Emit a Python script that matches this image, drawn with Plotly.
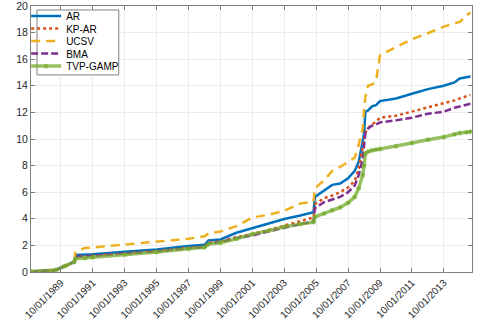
import plotly.graph_objects as go

# monthly dates where the cumulative curves change slope
dates = ["1987-12-01", "1989-06-01", "1990-01-01", "1990-08-01", "1990-09-01", "1991-04-01",
         "1991-10-01", "1993-10-01", "1995-10-01", "1997-10-01", "1998-10-01", "1999-01-01",
         "1999-10-01", "2000-10-01", "2001-10-01", "2002-10-01", "2003-10-01", "2004-10-01",
         "2005-08-01", "2005-09-01", "2006-04-01", "2006-10-01", "2007-04-01", "2007-10-01",
         "2008-03-01", "2008-06-01", "2008-09-01", "2008-10-01", "2008-11-01", "2009-01-01",
         "2009-04-01", "2009-07-01", "2009-10-01", "2010-10-01", "2011-10-01", "2012-10-01",
         "2013-10-01", "2014-06-01", "2014-10-01", "2015-03-01", "2015-06-01"]

ar = [0.03, 0.15, 0.45, 0.78, 1.28, 1.30, 1.33, 1.52, 1.70, 1.95, 2.05, 2.38,
      2.45, 2.95, 3.30, 3.60, 3.98, 4.25, 4.50, 5.65, 6.10, 6.55, 6.65, 7.05,
      7.60, 8.30, 9.85, 10.40, 12.05, 12.15, 12.45, 12.55, 12.85, 13.05, 13.40, 13.75,
      14.00, 14.25, 14.55, 14.62, 14.70]
kp_ar = [0.03, 0.15, 0.45, 0.76, 1.18, 1.20, 1.22, 1.40, 1.58, 1.82, 1.92, 2.20,
         2.30, 2.62, 2.85, 3.15, 3.50, 3.80, 4.10, 5.10, 5.55, 5.75, 6.00, 6.35,
         6.85, 7.80, 9.40, 10.10, 10.50, 10.80, 11.10, 11.30, 11.60, 11.75, 12.05, 12.35,
         12.65, 12.90, 13.05, 13.20, 13.30]
ucsv = [0.03, 0.15, 0.45, 0.80, 1.50, 1.80, 1.85, 2.05, 2.25, 2.50, 2.68, 2.90,
        3.05, 3.45, 4.10, 4.30, 4.60, 5.15, 5.30, 6.30, 6.90, 7.60, 7.90, 8.30,
        8.60, 9.60, 10.80, 12.20, 13.20, 14.00, 14.10, 14.30, 16.30, 16.90, 17.50, 17.95,
        18.45, 18.70, 18.80, 19.30, 19.50]
bma = [0.03, 0.15, 0.45, 0.75, 1.15, 1.18, 1.20, 1.38, 1.55, 1.78, 1.88, 2.15,
       2.25, 2.55, 2.75, 3.05, 3.35, 3.60, 3.80, 4.80, 5.25, 5.45, 5.65, 6.00,
       6.50, 7.30, 8.50, 9.50, 10.50, 10.80, 11.00, 11.10, 11.25, 11.40, 11.60, 11.90,
       12.05, 12.35, 12.45, 12.55, 12.65]
tvp_gamp = [0.03, 0.15, 0.45, 0.75, 1.00, 1.05, 1.10, 1.30, 1.50, 1.75, 1.85, 2.10,
            2.20, 2.50, 2.85, 3.10, 3.40, 3.60, 3.75, 4.15, 4.40, 4.65, 4.85, 5.20,
            5.65, 6.30, 7.30, 8.00, 8.90, 9.05, 9.15, 9.20, 9.25, 9.45, 9.70, 9.95,
            10.15, 10.35, 10.45, 10.50, 10.55]

tick_dates = ["1989-10-01", "1991-10-01", "1993-10-01", "1995-10-01", "1997-10-01",
              "1999-10-01", "2001-10-01", "2003-10-01", "2005-10-01", "2007-10-01",
              "2009-10-01", "2011-10-01", "2013-10-01"]
tick_text = ["10/01/1989", "10/01/1991", "10/01/1993", "10/01/1995", "10/01/1997",
             "10/01/1999", "10/01/2001", "10/01/2003", "10/01/2005", "10/01/2007",
             "10/01/2009", "10/01/2011", "10/01/2013"]

FONT = "Liberation Sans, Arial"

fig = go.Figure()
# one legend per trace so the rows can sit as tight as in the original
fig.add_trace(go.Scatter(x=dates, y=ar, name="AR", mode="lines", legend="legend",
                         line=dict(color="#0072BD", width=2.5)))
fig.add_trace(go.Scatter(x=dates, y=kp_ar, name="KP-AR", mode="lines", legend="legend2",
                         line=dict(color="#D95319", width=2.5, dash="dot")))
fig.add_trace(go.Scatter(x=dates, y=ucsv, name="UCSV", mode="lines", legend="legend3",
                         line=dict(color="#EDB120", width=2.5, dash="9px,6px")))
fig.add_trace(go.Scatter(x=dates, y=bma, name="BMA", mode="lines", legend="legend4",
                         line=dict(color="#7E2F8E", width=2.5, dash="7px,3px")))
fig.add_trace(go.Scatter(x=dates, y=tvp_gamp, name="TVP-GAMP", mode="lines+markers",
                         legend="legend5",
                         line=dict(color="rgba(119,172,48,0.75)", width=3.5),
                         marker=dict(symbol="asterisk-open", size=4, color="#77AC30",
                                     line=dict(color="#77AC30", width=1))))

axis_common = dict(showline=True, linecolor="#808080", linewidth=1, mirror="ticks",
                   ticks="inside", ticklen=4, tickcolor="#808080",
                   showgrid=True, gridcolor="#ebebeb", gridwidth=1, zeroline=False,
                   ticklabeloverflow="allow", automargin=False)

leg_rows = [0.962, 0.915, 0.868, 0.821, 0.774]
legends = {}
for i, yy in enumerate(leg_rows):
    key = "legend" if i == 0 else "legend%d" % (i + 1)
    legends[key] = dict(x=-0.011, y=yy, xanchor="left", yanchor="middle",
                        bgcolor="rgba(0,0,0,0)", borderwidth=0, itemwidth=30,
                        font=dict(family=FONT, size=10, color="#000000"))

fig.update_layout(
    width=504, height=324,
    margin=dict(l=31, r=32, t=6, b=52, autoexpand=False),
    paper_bgcolor="white", plot_bgcolor="white",
    showlegend=True,
    xaxis=dict(range=["1987-11-15", "2015-07-08"], tickvals=tick_dates, ticktext=tick_text,
               tickangle=-45, tickfont=dict(family=FONT, size=10, color="#262626"),
               **axis_common),
    yaxis=dict(range=[0, 20], dtick=2, tickfont=dict(family=FONT, size=10.5, color="#262626"),
               **axis_common),
    shapes=[dict(type="rect", xref="paper", yref="paper", x0=0.0136, x1=0.199,
                 y0=0.741, y1=0.985, line=dict(color="#808080", width=1),
                 fillcolor="white", layer="above")],
    **legends,
)

# the page body has a default 8px margin; drop it so the figure sits at the corner
fig.write_html("out.html", config={"displayModeBar": False},
               post_script="document.body.style.margin='0';")
